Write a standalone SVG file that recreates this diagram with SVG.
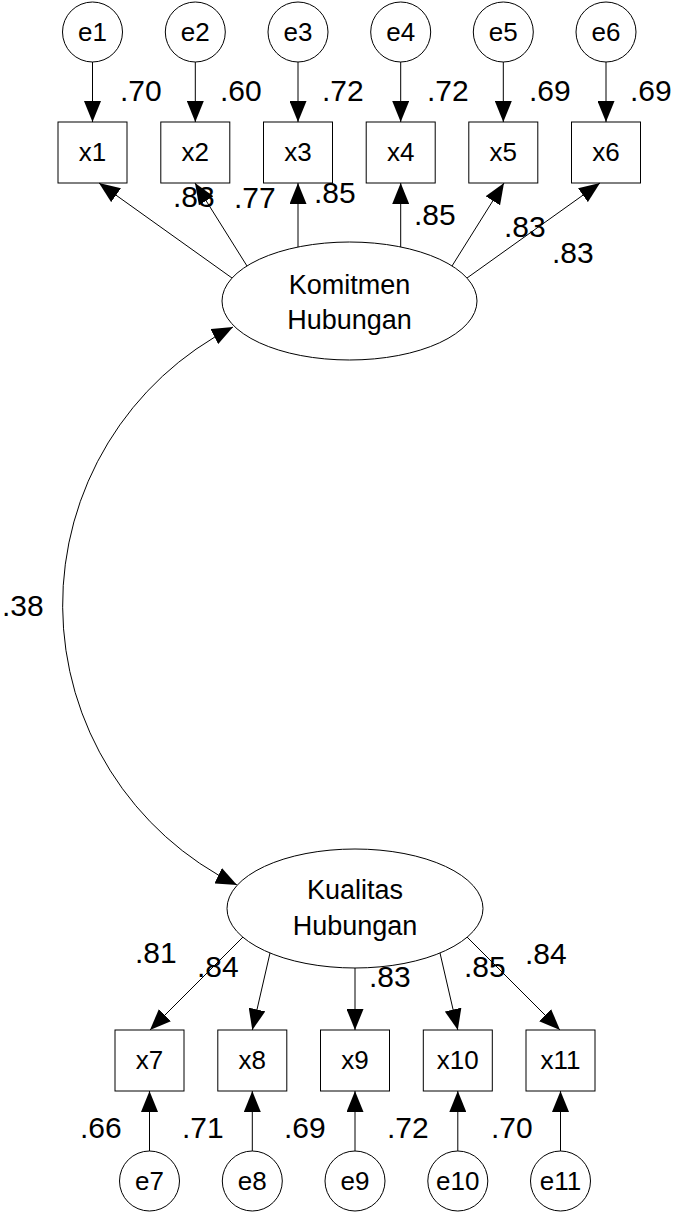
<svg xmlns="http://www.w3.org/2000/svg" width="676" height="1213" viewBox="0 0 676 1213">
  <style>
    .shape { fill: #fff; stroke: #000; stroke-width: 1; }
    .edge { fill: none; stroke: #000; stroke-width: 1; }
    .t { font-family: "Liberation Sans", Arial, sans-serif; fill: #000; }
    .node { font-size: 26px; text-anchor: middle; }
    .lat { font-size: 27px; text-anchor: middle; }
    .lbl { font-size: 30px; }
  </style>
  <defs>
    <marker id="arr" viewBox="0 0 21 17" refX="21" refY="8.5" markerWidth="21" markerHeight="17" markerUnits="userSpaceOnUse" orient="auto-start-reverse">
      <path d="M0,0 L21,8.5 L0,17 z" fill="#000"/>
    </marker>
  </defs>
  <rect width="676" height="1213" fill="#fff"/>

  <!-- error terms, top row -->
  <g id="e1"><circle class="shape" cx="92.5" cy="32" r="30"/><text class="t node" x="92.5" y="41">e1</text></g>
  <g id="e2"><circle class="shape" cx="195.3" cy="32" r="30"/><text class="t node" x="195.3" y="41">e2</text></g>
  <g id="e3"><circle class="shape" cx="298" cy="32" r="30"/><text class="t node" x="298" y="41">e3</text></g>
  <g id="e4"><circle class="shape" cx="400.7" cy="32" r="30"/><text class="t node" x="400.7" y="41">e4</text></g>
  <g id="e5"><circle class="shape" cx="503.3" cy="32" r="30"/><text class="t node" x="503.3" y="41">e5</text></g>
  <g id="e6"><circle class="shape" cx="606" cy="32" r="30"/><text class="t node" x="606" y="41">e6</text></g>

  <!-- indicators, top row -->
  <g id="x1"><rect class="shape" x="58" y="122" width="69" height="61"/><text class="t node" x="92.5" y="161">x1</text></g>
  <g id="x2"><rect class="shape" x="160.8" y="122" width="69" height="61"/><text class="t node" x="195.3" y="161">x2</text></g>
  <g id="x3"><rect class="shape" x="263.5" y="122" width="69" height="61"/><text class="t node" x="298" y="161">x3</text></g>
  <g id="x4"><rect class="shape" x="366.2" y="122" width="69" height="61"/><text class="t node" x="400.7" y="161">x4</text></g>
  <g id="x5"><rect class="shape" x="468.8" y="122" width="69" height="61"/><text class="t node" x="503.3" y="161">x5</text></g>
  <g id="x6"><rect class="shape" x="571.5" y="122" width="69" height="61"/><text class="t node" x="606" y="161">x6</text></g>

  <!-- latent factors -->
  <g id="komitmen">
    <ellipse class="shape" cx="349.5" cy="301" rx="127.5" ry="59"/>
    <text class="t lat" x="349.5" y="294">Komitmen</text>
    <text class="t lat" x="349.5" y="329">Hubungan</text>
  </g>
  <g id="kualitas">
    <ellipse class="shape" cx="355" cy="908.5" rx="128" ry="59.5"/>
    <text class="t lat" x="355" y="899">Kualitas</text>
    <text class="t lat" x="355" y="935">Hubungan</text>
  </g>

  <!-- indicators, bottom row -->
  <g id="x7"><rect class="shape" x="115" y="1030" width="69" height="61"/><text class="t node" x="149.5" y="1069">x7</text></g>
  <g id="x8"><rect class="shape" x="217.8" y="1030" width="69" height="61"/><text class="t node" x="252.3" y="1069">x8</text></g>
  <g id="x9"><rect class="shape" x="320.5" y="1030" width="69" height="61"/><text class="t node" x="355" y="1069">x9</text></g>
  <g id="x10"><rect class="shape" x="423.3" y="1030" width="69" height="61"/><text class="t node" x="457.8" y="1069">x10</text></g>
  <g id="x11"><rect class="shape" x="526" y="1030" width="69" height="61"/><text class="t node" x="560.5" y="1069">x11</text></g>

  <!-- error terms, bottom row -->
  <g id="e7"><circle class="shape" cx="149.5" cy="1181" r="30"/><text class="t node" x="149.5" y="1190">e7</text></g>
  <g id="e8"><circle class="shape" cx="252.3" cy="1181" r="30"/><text class="t node" x="252.3" y="1190">e8</text></g>
  <g id="e9"><circle class="shape" cx="355" cy="1181" r="30"/><text class="t node" x="355" y="1190">e9</text></g>
  <g id="e10"><circle class="shape" cx="457.8" cy="1181" r="30"/><text class="t node" x="457.8" y="1190">e10</text></g>
  <g id="e11"><circle class="shape" cx="560.5" cy="1181" r="30"/><text class="t node" x="560.5" y="1190">e11</text></g>

  <!-- path coefficients and squared multiple correlations -->
  <g id="labels" class="t lbl">
    <text x="120" y="100.5">.70</text>
    <text x="220" y="100.5">.60</text>
    <text x="322" y="100.5">.72</text>
    <text x="427" y="100.5">.72</text>
    <text x="529" y="100.5">.69</text>
    <text x="630" y="100.5">.69</text>

    <text x="173" y="207">.83</text>
    <text x="234" y="208">.77</text>
    <text x="314" y="203">.85</text>
    <text x="414" y="225">.85</text>
    <text x="504" y="237">.83</text>
    <text x="552" y="263">.83</text>

    <text x="2" y="616">.38</text>

    <text x="135" y="963">.81</text>
    <text x="197" y="977">.84</text>
    <text x="369" y="987">.83</text>
    <text x="464" y="977">.85</text>
    <text x="525" y="964">.84</text>

    <text x="80" y="1138">.66</text>
    <text x="182" y="1138">.71</text>
    <text x="284" y="1138">.69</text>
    <text x="387" y="1138">.72</text>
    <text x="491" y="1138">.70</text>
  </g>

  <!-- arrows -->
  <g id="connectors" class="edge" marker-end="url(#arr)">
    <!-- error terms to top indicators -->
    <line x1="92.5" y1="62" x2="92.5" y2="122"/>
    <line x1="195.3" y1="62" x2="195.3" y2="122"/>
    <line x1="298" y1="62" x2="298" y2="122"/>
    <line x1="400.7" y1="62" x2="400.7" y2="122"/>
    <line x1="503.3" y1="62" x2="503.3" y2="122"/>
    <line x1="606" y1="62" x2="606" y2="122"/>
    <!-- Komitmen Hubungan loadings -->
    <line x1="232" y1="278" x2="99" y2="183"/>
    <line x1="247" y1="266" x2="195" y2="183"/>
    <line x1="298" y1="247" x2="298" y2="183"/>
    <line x1="400.7" y1="247" x2="400.7" y2="183"/>
    <line x1="452" y1="266" x2="504" y2="183"/>
    <line x1="467" y1="278" x2="600" y2="183"/>
    <!-- covariance between factors -->
    <path d="M233,327 A312,312 0 0 0 237,885" marker-start="url(#arr)"/>
    <!-- Kualitas Hubungan loadings -->
    <line x1="243" y1="937" x2="150" y2="1030"/>
    <line x1="270" y1="953" x2="252.3" y2="1030"/>
    <line x1="355" y1="968" x2="355" y2="1030"/>
    <line x1="440" y1="953" x2="457.8" y2="1030"/>
    <line x1="467" y1="937" x2="560" y2="1030"/>
    <!-- error terms to bottom indicators -->
    <line x1="149.5" y1="1151" x2="149.5" y2="1091"/>
    <line x1="252.3" y1="1151" x2="252.3" y2="1091"/>
    <line x1="355" y1="1151" x2="355" y2="1091"/>
    <line x1="457.8" y1="1151" x2="457.8" y2="1091"/>
    <line x1="560.5" y1="1151" x2="560.5" y2="1091"/>
  </g>
</svg>
